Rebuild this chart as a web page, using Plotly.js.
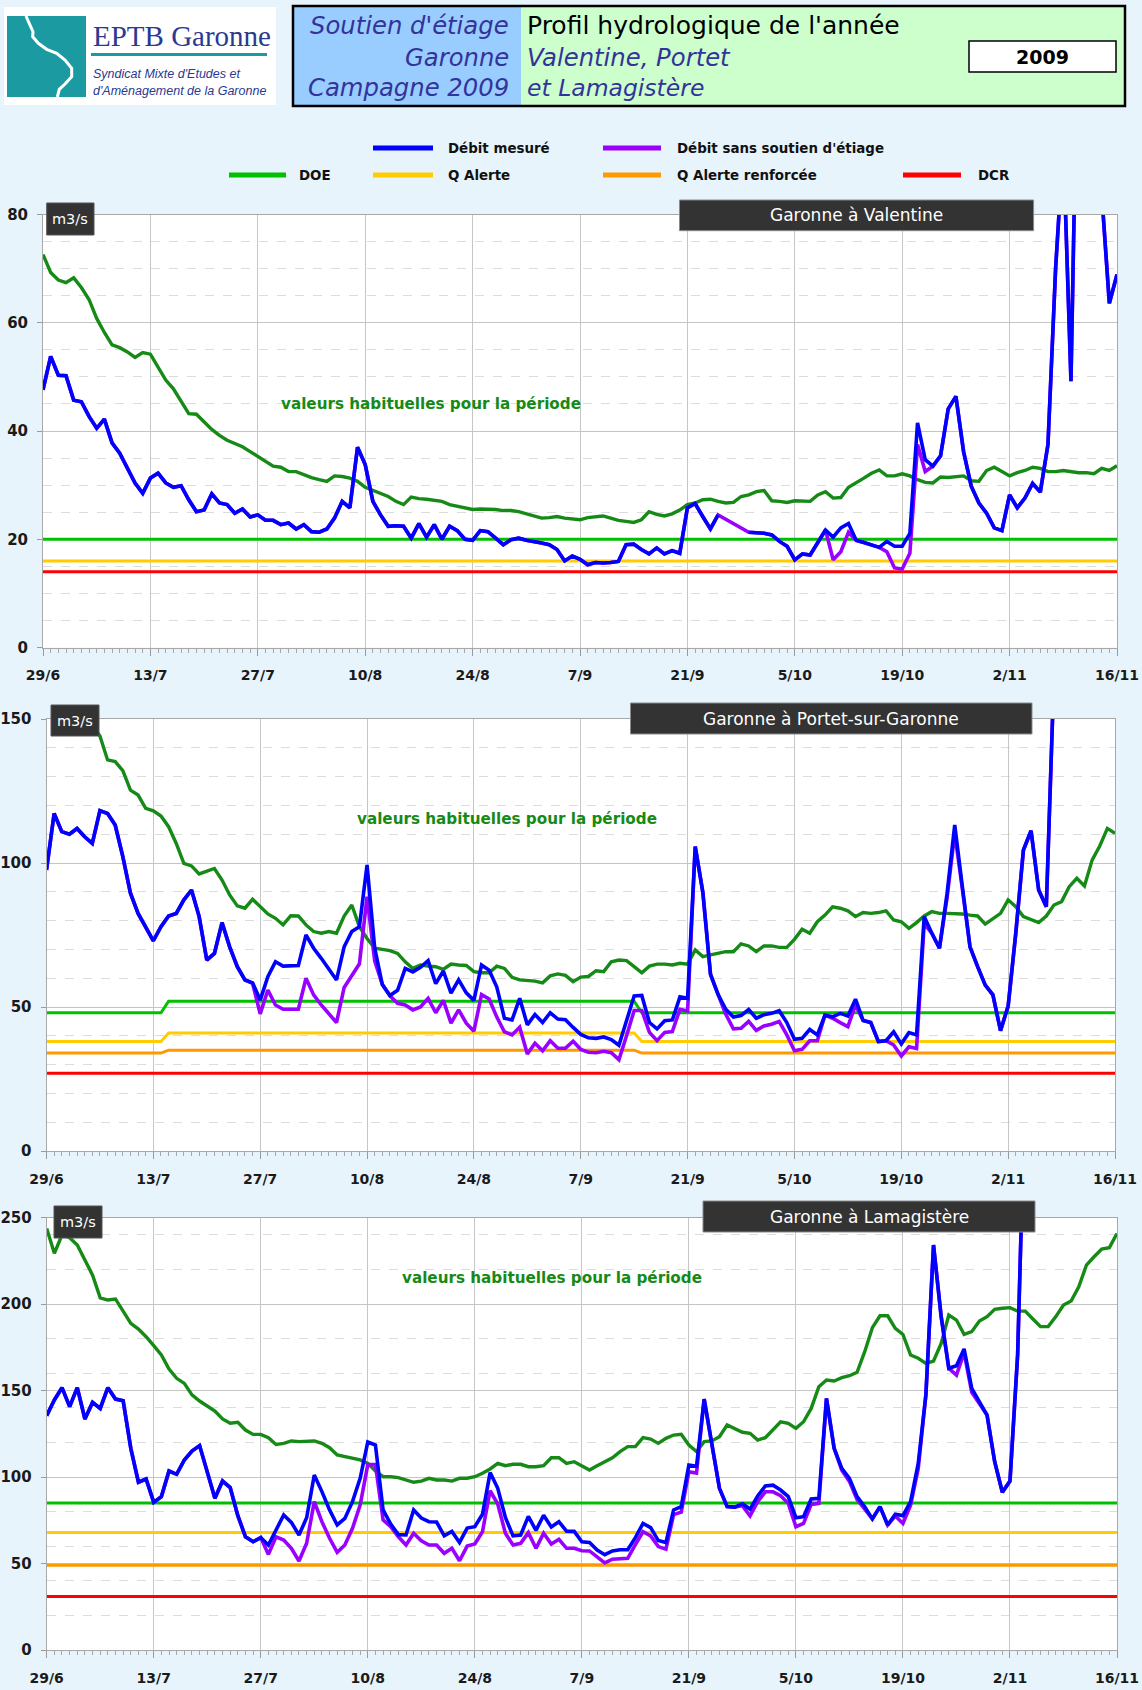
<!DOCTYPE html>
<html><head><meta charset="utf-8">
<script src="https://cdn.plot.ly/plotly-3.0.1.min.js"></script>
<style>html,body{margin:0;padding:0;background:#e8f4fc;} #chart{width:1142px;height:1690px;}</style>
</head><body><div id="chart"></div>
<script>
// ---------- DATA ----------
const tickDays = [0,14,28,42,56,70,84,98,112,126,140];
const tickLabels = ['29/6','13/7','27/7','10/8','24/8','7/9','21/9','5/10','19/10','2/11','16/11'];
const N = 141;
const days = Array.from({length: N}, (_, i) => i);

// Garonne à Valentine
const valMes = [47.6,53.8,50.3,50.2,45.7,45.4,42.7,40.5,42.2,37.8,
35.9,33.1,30.4,28.5,31.3,32.2,30.4,29.6,29.9,27.3,
25.1,25.4,28.4,26.7,26.4,24.8,25.6,24.1,24.5,23.5,
23.5,22.7,23.0,21.9,22.7,21.4,21.3,21.9,23.9,27.0,
25.8,37.0,33.8,27.0,24.5,22.4,22.5,22.4,20.2,22.9,
20.4,22.7,20.0,22.4,21.6,20.0,19.8,21.6,21.4,20.2,
19.0,19.9,20.2,19.8,19.6,19.3,19.0,18.1,16.0,16.9,
16.3,15.3,15.7,15.6,15.7,15.9,19.0,19.1,18.1,17.3,
18.4,17.3,17.9,17.4,25.8,26.6,24.2,21.9,24.5,null,
null,null,21.3,21.2,21.1,20.8,19.6,18.7,16.2,17.3,
17.1,19.4,21.7,20.4,22.1,22.9,19.8,19.4,19.0,18.5,
19.6,18.7,18.7,21.1,41.5,34.7,33.5,35.4,44.1,46.4,
36.2,29.8,26.7,24.8,22.1,21.6,28.2,25.8,27.6,30.3,
28.7,37.5,70.1,93,49.2,125,130,110,84,63.6,68.9];
const valSans = [47.6,53.8,50.3,50.2,45.7,45.4,42.7,40.5,42.2,37.8,
35.9,33.1,30.4,28.5,31.3,32.2,30.4,29.6,29.9,27.3,
25.1,25.4,28.4,26.7,26.4,24.8,25.6,24.1,24.5,23.5,
23.5,22.7,23.0,21.9,22.7,21.4,21.3,21.9,23.9,27.0,
25.8,37.0,33.8,27.0,24.5,22.4,22.5,22.4,20.2,22.9,
20.4,22.7,20.0,22.4,21.6,20.0,19.8,21.6,21.4,20.2,
19.0,19.9,20.2,19.8,19.6,19.3,19.0,18.1,16.0,16.9,
16.3,15.3,15.7,15.6,15.7,15.9,19.0,19.1,18.1,17.3,
18.4,17.3,17.9,17.4,25.8,26.6,24.2,21.9,24.5,null,
null,null,21.3,21.2,21.1,20.8,19.6,18.7,16.2,17.3,
17.1,19.4,21.7,16.2,17.7,21.3,19.8,19.4,19.0,18.5,
17.7,14.7,14.5,17.4,37.5,32.5,33.5,35.4,44.1,46.4,
36.2,29.8,26.7,24.8,22.1,21.6,28.2,25.8,27.6,30.3,
28.7,37.5,70.1,93,49.2,125,130,110,84,63.6,68.9];
const valHab = [72.6,69.3,67.9,67.4,68.3,66.5,64.3,60.8,58.2,55.9,
55.4,54.6,53.6,54.5,54.2,51.8,49.4,47.8,45.6,43.2,
43.1,41.7,40.3,39.2,38.3,37.7,37.1,36.2,35.3,34.4,
33.5,33.3,32.5,32.5,31.9,31.4,31.0,30.7,31.7,31.6,
31.3,30.7,29.6,29.0,28.5,27.9,27.0,26.4,27.8,27.5,
27.4,27.2,27.0,26.4,26.1,25.8,25.5,25.6,25.6,25.5,
25.3,25.3,25.1,24.7,24.3,23.9,24.0,24.2,23.9,23.7,
23.6,24.0,24.1,24.3,23.9,23.5,23.3,23.1,23.6,25.1,
24.6,24.3,24.7,25.4,26.4,26.7,27.3,27.4,27.0,26.7,
26.8,27.9,28.2,28.8,29.0,27.1,27.0,26.8,27.1,27.0,
27.0,28.2,28.8,27.6,27.7,29.6,30.4,31.3,32.2,32.8,
31.7,31.7,32.1,31.7,31.0,30.5,30.4,31.5,31.4,31.6,
31.7,30.8,30.7,32.7,33.3,32.5,31.7,32.3,32.7,33.3,
33.1,32.5,32.5,32.7,32.5,32.3,32.3,32.1,33.1,32.7,33.6];
const valThrDays = [0,140];
const valDOE = [20,20];
const valQA = [16,16];
const valDCR = [14,14];

// Garonne à Portet-sur-Garonne
const porMes = [97.6,117.2,110.9,110,112,109.1,106.8,118.2,117.2,113.2,
102.2,89.5,82.5,77.9,73,77.9,81.6,82.5,87.2,90.6,
81.4,66.3,68.6,79.3,70.9,64,59.4,58.4,52.4,60.5,
65.7,64.2,64.2,64.4,75,70.4,66.9,63.4,59.4,70.9,
76.2,77.9,99.3,70.5,57.8,54,55.8,63.4,62.2,63.8,
66.1,58.1,62.5,54.8,59.4,54.9,52.3,64.6,62.8,56.9,
46.1,45.5,53,43.8,47.4,44.6,48,45.8,45.6,42.9,
40.5,39.3,39.1,39.6,38.7,36.7,45.5,53.8,54,44.6,
42.4,45.2,45.5,53.5,53,105.7,89.8,61.3,54.3,49.2,
46.5,47,49.1,46.1,47.3,47.8,48.7,44.6,38.8,39.1,
42.2,40.3,47.2,46.6,47.8,46.9,52.7,45.3,44.6,38,
38.3,41.4,37.2,41.1,40.3,81.4,75.6,70.4,89.5,113.2,
91.8,70.9,64,57.6,54.2,41.8,50.3,75.6,104.5,111.2,
90.6,84.8,165,null,null,null,null,null,null,null,null];
const porSans = [97.6,117.2,110.9,110,112,109.1,106.8,118.2,117.2,113.2,
102.2,89.5,82.5,77.9,73,77.9,81.6,82.5,87.2,90.6,
81.4,66.3,68.6,79.3,70.9,64,59.4,58.2,47.6,55.9,
50.7,49.2,49.2,49.2,60,54.2,50.7,47.6,44.6,56.8,
61.1,65,88.3,66,57.8,53.9,51.3,50.7,49,50,
53,48,52.3,44.4,49,44.4,41.6,54.3,52.8,46.5,
41.4,40.3,43,33.7,37.4,34.8,38.3,35.7,35.7,38.1,
35.3,34.3,34.1,34.6,34.1,31.7,40,48.8,48.8,41.2,
38.3,41.2,41.5,49.2,48.6,105.7,89.8,61.3,54.3,47.5,
42.4,42.6,45,41.9,43.4,44,45,40.3,34.8,35.3,
38.3,38.3,47.2,46.1,44.6,43.2,50.7,45.3,44.6,38,
38.3,36.8,33,36.2,35.6,79,75.6,70.4,88,110.3,
91,70.9,64,57.6,54.2,41.8,50.3,75.6,104.5,111.2,
90.6,84.8,165,null,null,null,null,null,null,null,null];
const porHab = [158,156,154,152,151,150,148,144.1,135.8,135.2,
132.1,125.3,123.6,119,118.1,116.3,112.6,106.8,99.9,99,
96.2,97.2,98.1,94.1,88.9,85.1,84.3,87.4,84.8,82.3,
80.8,78.5,81.7,81.6,78.5,76.2,75.6,76.2,75.6,81.6,
85.4,77.9,73.8,70.4,70,69.6,68.6,65.7,63.4,64.6,
64.2,64,63.1,64.9,64.6,64.4,62.3,61.9,61.9,64.2,
63.4,60.3,59.4,59.1,59,58.4,60.8,61.5,61,58.8,
60.4,60.6,62.6,62.3,65.7,66.3,66.1,64,61.9,64.2,
64.9,64.9,64.6,65.2,64.9,69.8,67.5,68.1,68.6,69.2,
69.2,71.9,71.2,69.2,71.2,71.2,70.7,70.7,73.5,77,
75.6,79.6,81.9,84.8,84.3,83.4,81.4,82.8,82.5,82.8,
83.4,80.2,79.6,77.3,79.3,81.6,83.1,82.5,82.5,82.5,
82.3,81.9,81.6,78.8,80.8,82.5,87.2,84.8,81.4,80.4,
79.3,81.6,85.4,86.6,91.8,94.7,92,101,105.9,112,110.3];
const porThrDays = [0,15,16,77,78,140];
const porDOE = [48,48,52,52,48,48];
const porQA  = [38,38,41,41,38,38];
const porQAR = [34,34,35,35,34,34];
const porDCRDays = [0,140];
const porDCR = [27,27];

// Garonne à Lamagistère
const lamMes = [135.5,144.6,151.7,140.7,151.7,133.6,143.2,139.7,151.7,145.1,
144.2,116.6,97,98.9,85.4,88.7,103.5,101.6,109.9,115.1,
118.2,103.1,87.7,97.7,93.9,77.7,65.5,62.6,65,60.7,
70,78.1,73.8,66.5,76.5,101.2,91.6,81,72.3,76.1,
85.8,99.3,120.3,118.5,81,72.8,66.7,66.5,81,76.3,
74.2,74,66,68.6,62.2,70.5,71.3,78.5,102.6,93.5,
76.6,66,66.5,77.3,69.2,77.9,71.1,74.2,68.7,68.6,
62.6,62.2,57.8,55.1,57.3,58,58,65,73.2,70.8,
63.3,62.2,81,82.9,107,106.3,145.1,119,93.5,82.9,
82.6,84.6,81.5,89.1,94.9,95.3,92.5,88.7,76.5,77.1,
87.3,87.7,145.5,116.6,105,99.3,88.7,82.9,75.8,82.9,
72.3,78.5,77.7,85.8,107.9,147.5,234.2,192.8,162.9,164.4,
174.1,151.3,143.6,135.9,108.9,91.2,97.7,170.6,330,null,
null,null,null,null,null,null,null,null,null,null,null];
const lamSans = [135.5,144.6,151.7,140.7,151.7,133.6,143.2,139.7,151.7,145.1,
144.2,116.6,97,98.9,85.4,88.7,103.5,101.6,109.9,115.1,
118.2,103.1,87.7,97.7,93.9,77.7,65.5,62.6,65,55.3,
65.5,63.6,58.8,51.5,61.7,85.8,74.2,64.6,56.5,60.7,
70.4,83.8,107.2,107.2,75.2,71.3,65.5,60.7,67.5,63.2,
60.7,60.7,55.9,58.8,51.6,60.1,61.3,68.4,92.1,84.4,
67.5,60.7,61.7,67.9,58.8,67.5,61.3,64,58.8,58.8,
57.4,57.3,53.8,50.4,52.5,53,53,60.9,68.4,66,
59.8,58.3,78.3,79.7,103.1,102.3,145.1,119,93.5,82.9,
82.6,83.5,77.5,85.8,91.5,91.5,89.2,84.8,71.3,73.2,
84.2,84.8,145.5,116.6,104,97.5,87,81.5,75.8,82.9,
72.3,77.5,73.2,83.8,105,147.5,234.2,192.8,162.9,159,
172,149,142,135.9,108.9,91.2,97.7,170.6,330,null,
null,null,null,null,null,null,null,null,null,null,null];
const lamHab = [243.8,229.4,240,238.4,234.2,225.5,216.8,203.7,202.4,203,
195.6,188.9,185.6,181.2,176,170.6,162.5,157.1,154.2,147.5,
144,141.3,138.2,133.6,131.1,131.7,127.2,124.7,124.7,122.8,
118.9,119.5,120.9,120.5,120.9,120.9,119.5,117,112.8,111.8,
110.8,109.9,107.9,103.5,100.2,100.2,99.7,98.3,97,97.7,
99.3,98.3,98.3,97.7,99.3,99.3,100.2,102.2,104.7,107.9,
106.6,107.4,107.4,106,106,106.6,111.2,111.2,107.9,108.9,
106.6,104.1,106.6,108.9,111.2,114.7,117.6,117.6,122.8,122,
119.5,122.4,124.3,124.7,118.5,114.7,120.5,120.9,123.4,130.1,
128.2,125.9,125.3,121.4,122.8,127.2,132,131.1,128.2,132,
139.7,152.3,156.1,155.6,157.5,158.6,160.6,172.5,186.4,193.3,
193.3,186,182.5,170.6,168.7,165.8,167.1,177.3,193.7,190.8,
182.5,184.1,190.2,192.8,197,197.6,198,196,196,191.4,
187,187,192.8,199.5,201.8,210.1,222.6,227.4,231.9,232.7,240.9];
const lamThrDays = [0,140];
const lamDOE = [85,85];
const lamQA = [68,68];
const lamQAR = [49,49];
const lamDCR = [31,31];

const stationNames = ['Garonne à Valentine','Garonne à Portet-sur-Garonne','Garonne à Lamagistère'];
const legendNames = ['Débit mesuré','Débit sans soutien d\'étiage','DOE','Q Alerte','Q Alerte renforcée','DCR'];
const habText = 'valeurs habituelles pour la période';

// ---------- STYLE / LAYOUT ----------
const W = 1142, H = 1690;
const px = x => x / W;
const py = y => 1 - y / H;
const C = {mes:'#0000ff', sans:'#9900ff', doe:'#00c000', qa:'#ffcc00', qar:'#ff9900', dcr:'#ff0000', hab:'#168a16'};
const BG = '#e8f4fc';

const panels = [
  {x0:43, x1:1117, y0:214.5, y1:647.5, ymax:80, dtick:20, minor:5,
   mes:valMes, sans:valSans, hab:valHab,
   thr:[[valThrDays,valDCR,C.dcr],[valThrDays,valQA,C.qa],[valThrDays,valDOE,C.doe]],
   unit:[46.7,203,94,235], title:[679.5,200,1033.6,230.7], hab_xy:[431,404]},
  {x0:46.5, x1:1115, y0:719, y1:1151, ymax:150, dtick:50, minor:10,
   mes:porMes, sans:porSans, hab:porHab,
   thr:[[porDCRDays,porDCR,C.dcr],[porThrDays,porQAR,C.qar],[porThrDays,porQA,C.qa],[porThrDays,porDOE,C.doe]],
   unit:[51,705,99,736], title:[630.5,703,1032,734], hab_xy:[507,819]},
  {x0:46.7, x1:1117, y0:1217.7, y1:1650, ymax:250, dtick:50, minor:20,
   mes:lamMes, sans:lamSans, hab:lamHab,
   thr:[[lamThrDays,lamDCR,C.dcr],[lamThrDays,lamQAR,C.qar],[lamThrDays,lamQA,C.qa],[lamThrDays,lamDOE,C.doe]],
   unit:[54,1206,102,1238], title:[703,1201,1035,1232], hab_xy:[552,1278]}
];

const traces = [];
const layout = {
  width: W, height: H, margin:{l:0,r:0,t:0,b:0},
  paper_bgcolor: BG, plot_bgcolor:'#ffffff', showlegend:false,
  shapes: [], annotations: []
};
const tickFont = {family:'DejaVu Sans', size:14, color:'#1a1a1a', weight:'bold'};

panels.forEach((p, i) => {
  const n = i === 0 ? '' : String(i + 1);
  const xa = 'x' + n, ya = 'y' + n;
  layout['xaxis' + n] = {
    domain:[px(p.x0), px(p.x1)], anchor: ya, range:[0,140],
    tickmode:'array', tickvals: tickDays, ticktext: tickLabels,
    ticks:'outside', ticklen:7, tickwidth:1, tickcolor:'#9a9a9a',
    showgrid:true, gridcolor:'#c6c6c6', gridwidth:1,
    showline:true, linecolor:'#a8a8a8', linewidth:1, mirror:true, zeroline:false,
    tickfont: tickFont, ticklabelstandoff: 8,
    minor:{tickmode:'linear', tick0:0, dtick:1, ticks:'outside', ticklen:4, tickcolor:'#a8a8a8', showgrid:false},
    fixedrange:true
  };
  layout['yaxis' + n] = {
    domain:[py(p.y1), py(p.y0)], anchor: xa, range:[0, p.ymax],
    tickmode:'linear', tick0:0, dtick:p.dtick,
    ticks:'outside', ticklen:5, tickwidth:1, tickcolor:'#9a9a9a',
    showgrid:true, gridcolor:'#c4c4c4', gridwidth:1,
    showline:true, linecolor:'#a8a8a8', linewidth:1, mirror:true, zeroline:false,
    tickfont:{family:'DejaVu Sans', size:15, color:'#1a1a1a', weight:'bold'}, ticklabelstandoff: 6,
    minor:{tickmode:'linear', tick0:0, dtick:p.minor, showgrid:true, gridcolor:'#dcdcdc', griddash:'dash', gridwidth:1, ticks:''},
    fixedrange:true
  };
  p.thr.forEach(t => traces.push({x:t[0], y:t[1], xaxis:xa, yaxis:ya, mode:'lines', type:'scatter',
    line:{color:t[2], width:3}, hoverinfo:'skip'}));
  traces.push({x:days, y:p.hab, xaxis:xa, yaxis:ya, mode:'lines', type:'scatter',
    line:{color:C.hab, width:3.4}, hoverinfo:'skip'});
  traces.push({x:days, y:p.sans, xaxis:xa, yaxis:ya, mode:'lines', type:'scatter', connectgaps:true,
    line:{color:C.sans, width:3.6}, hoverinfo:'skip'});
  traces.push({x:days, y:p.mes, xaxis:xa, yaxis:ya, mode:'lines', type:'scatter', connectgaps:false,
    line:{color:C.mes, width:3.6}, hoverinfo:'skip'});

  // unit box
  const u = p.unit;
  layout.shapes.push({type:'rect', xref:'paper', yref:'paper', x0:px(u[0]), x1:px(u[2]), y0:py(u[3]), y1:py(u[1]),
    fillcolor:'#333333', line:{color:'#555555', width:1}, layer:'above'});
  layout.annotations.push({xref:'paper', yref:'paper', x:px((u[0]+u[2])/2), y:py((u[1]+u[3])/2), text:'m3/s',
    showarrow:false, xanchor:'center', yanchor:'middle', font:{family:'DejaVu Sans', size:14.5, color:'#ffffff'}});
  // title box
  const t = p.title;
  layout.shapes.push({type:'rect', xref:'paper', yref:'paper', x0:px(t[0]), x1:px(t[2]), y0:py(t[3]), y1:py(t[1]),
    fillcolor:'#333333', line:{color:'#8a8a8a', width:1}, layer:'above'});
  layout.annotations.push({xref:'paper', yref:'paper', x:px((t[0]+t[2])/2), y:py((t[1]+t[3])/2), text:stationNames[i],
    showarrow:false, xanchor:'center', yanchor:'middle', font:{family:'DejaVu Sans', size:17, color:'#ffffff'}});
  // habitual values label
  layout.annotations.push({xref:'paper', yref:'paper', x:px(p.hab_xy[0]), y:py(p.hab_xy[1]), text:habText,
    showarrow:false, xanchor:'center', yanchor:'middle', font:{family:'DejaVu Sans', size:15.2, color:C.hab, weight:'bold'}});
});

// ---------- LEGEND ----------
const legendItems = [
  {name:legendNames[0], color:C.mes,  x0:373, x1:433, tx:446, y:148},
  {name:legendNames[1], color:C.sans, x0:603, x1:661, tx:675, y:148},
  {name:legendNames[2], color:C.doe,  x0:229, x1:286, tx:297, y:175},
  {name:legendNames[3], color:C.qa,   x0:373, x1:433, tx:446, y:175},
  {name:legendNames[4], color:C.qar,  x0:603, x1:661, tx:675, y:175},
  {name:legendNames[5], color:C.dcr,  x0:903, x1:961, tx:976, y:175}
];
legendItems.forEach(it => {
  layout.shapes.push({type:'line', xref:'paper', yref:'paper', x0:px(it.x0), x1:px(it.x1), y0:py(it.y), y1:py(it.y),
    line:{color:it.color, width:5}});
  layout.annotations.push({xref:'paper', yref:'paper', x:px(it.tx), y:py(it.y+0.5), text:it.name, showarrow:false,
    xanchor:'left', yanchor:'middle', font:{family:'DejaVu Sans', size:13.4, color:'#111111', weight:'bold'}});
});

// ---------- HEADER ----------
function rect(x0,y0,x1,y1,fill,lc,lw){ layout.shapes.push({type:'rect', xref:'paper', yref:'paper',
  x0:px(x0), x1:px(x1), y0:py(y1), y1:py(y0), fillcolor:fill, line:{color:lc||fill, width:lw||0}, layer:'above'}); }
function text(x,y,s,anchor,font){ layout.annotations.push({xref:'paper', yref:'paper', x:px(x), y:py(y), text:s,
  showarrow:false, xanchor:anchor, yanchor:'middle', font:font}); }

// logo
rect(4,7,276,105,'#ffffff');
rect(7,16,86,97,'#1b9aa2');
const river = [[26,16],[29,23],[33,31.7],[32.7,36.7],[38.3,43.3],[46.7,49.3],[56.7,53.3],[65,60],[71.7,68.3],
  [71.7,76.7],[65,84],[59.3,89.3],[57.3,97]];
layout.shapes.push({type:'path', xref:'paper', yref:'paper', layer:'above',
  path: 'M ' + river.map(q => px(q[0]) + ',' + py(q[1])).join(' L '), line:{color:'#ffffff', width:3}});
text(91, 36, 'EPTB Garonne', 'left', {family:'Liberation Serif', size:29, color:'#2b3990'});
layout.shapes.push({type:'line', xref:'paper', yref:'paper', x0:px(91), x1:px(267), y0:py(54.5), y1:py(54.5),
  line:{color:'#1b9aa2', width:3}});
text(91, 74, "Syndicat Mixte d'Etudes et", 'left', {family:'Liberation Sans', size:12.5, color:'#2b3990', style:'italic'});
text(91, 91, "d'Aménagement de la Garonne", 'left', {family:'Liberation Sans', size:12.5, color:'#2b3990', style:'italic'});

// title block
rect(293,6,521,106,'#99ccff');
rect(521,6,1125,106,'#ccffcc');
layout.shapes.push({type:'rect', xref:'paper', yref:'paper', x0:px(293), x1:px(1125), y0:py(106), y1:py(6),
  line:{color:'#000000', width:2.5}, layer:'above'});
const hBlue = {family:'DejaVu Sans', size:24.3, color:'#333399', style:'italic'};
text(511, 25.5, "Soutien d'étiage", 'right', hBlue);
text(511, 57.5, 'Garonne', 'right', hBlue);
text(511, 88, 'Campagne 2009', 'right', hBlue);
text(525, 25.5, "Profil hydrologique de l'année", 'left', {family:'DejaVu Sans', size:25, color:'#000000'});
text(525, 57.5, 'Valentine, Portet', 'left', hBlue);
text(525, 88, 'et Lamagistère', 'left', {family:'DejaVu Sans', size:23.5, color:'#333399', style:'italic'});
rect(969,41,1116,72,'#ffffff','#000000',1.5);
text(1042.5, 57, '2009', 'center', {family:'DejaVu Sans', size:19, color:'#000000', weight:'bold'});

Plotly.newPlot('chart', traces, layout, {staticPlot:true, displayModeBar:false});
</script></body></html>
